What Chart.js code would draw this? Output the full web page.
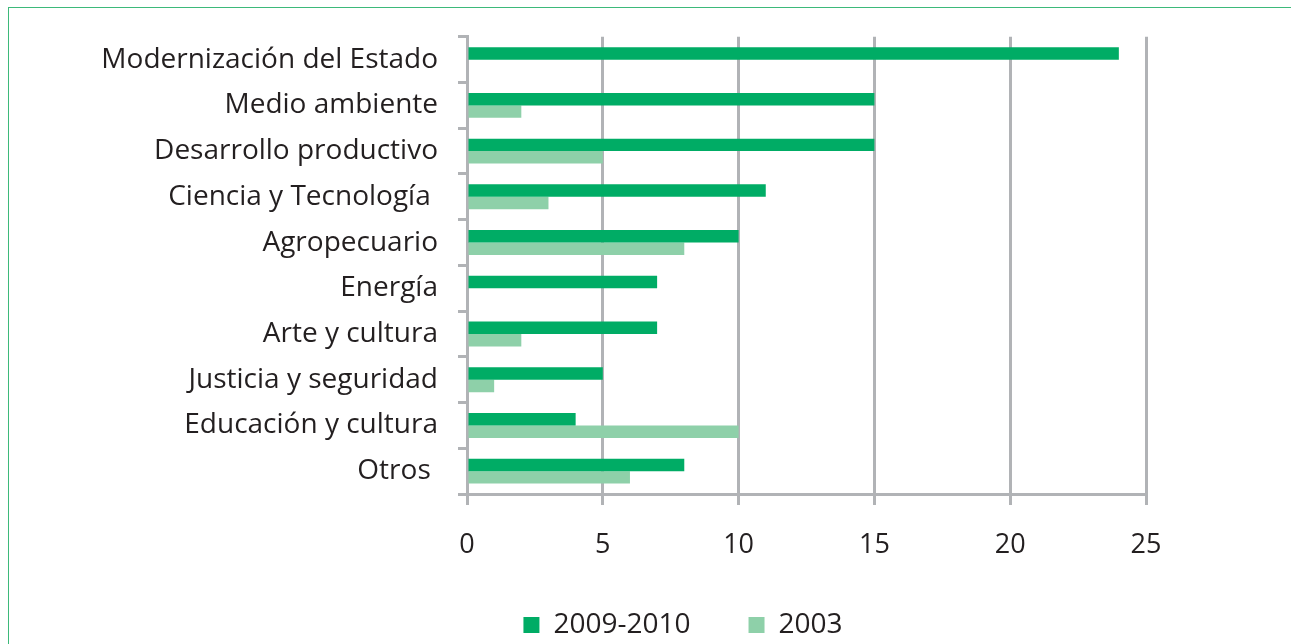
<!DOCTYPE html>
<html>
<head>
<meta charset="utf-8">
<script src="https://cdn.jsdelivr.net/npm/chart.js@4/dist/chart.umd.min.js"></script>
<style>
  html,body{margin:0;padding:0;background:#fff;overflow:hidden;}
  #frame{position:absolute;left:8px;top:7px;width:1300px;height:660px;border:1.5px solid #3DB97A;box-sizing:border-box;}
  #c{position:absolute;left:0;top:0;}
</style>
</head>
<body>
<div id="frame"></div>
<canvas id="c" width="1291" height="644"></canvas>
<script>
const categories = ["Modernización del Estado","Medio ambiente","Desarrollo productivo","Ciencia y Tecnología ","Agropecuario","Energía","Arte y cultura","Justicia y seguridad","Educación y cultura","Otros "];
const series2009 = [24,15,15,11,10,7,7,5,4,8];
const series2003 = [null,2,5,3,8,null,2,1,10,6];
const xTicks = [0,5,10,15,20,25];

const GRID = '#B1B3B6';
const TEXT = '#231F20';
const FONT = "'Open Sans', sans-serif";

const legendPlace = {
  id: 'legendPlace',
  afterLayout(chart) {
    const lg = chart.legend;
    if (lg) { lg.top = 553; lg.bottom = 644; lg.height = 91; }
  }
};

new Chart(document.getElementById('c'), {
  type: 'bar',
  data: {
    labels: categories,
    datasets: [
      {label: '2009-2010', data: series2009, backgroundColor: '#00AC65', borderWidth: 0, categoryPercentage: 0.545, barPercentage: 1},
      {label: '2003', data: series2003, backgroundColor: '#8ED0A9', borderWidth: 0, categoryPercentage: 0.545, barPercentage: 1}
    ]
  },
  plugins: [legendPlace],
  options: {
    indexAxis: 'y',
    responsive: false,
    animation: false,
    devicePixelRatio: 1,
    layout: {padding: {left: 220, right: 145, top: 34, bottom: 40}},
    scales: {
      x: {
        min: 0, max: 25,
        afterBuildTicks: (s) => { s.ticks = xTicks.map(v => ({value: v})); },
        afterFit: (s) => { s.height = 60; },
        grid: {color: GRID, lineWidth: 3, tickLength: 11, drawTicks: true},
        border: {color: GRID, width: 3},
        ticks: {color: TEXT, font: {family: FONT, size: 27}, padding: 24}
      },
      y: {
        afterFit: (s) => { s.width = 247; s._computeLabelArea = () => undefined; },
        grid: {offset: true, drawOnChartArea: false, color: GRID, lineWidth: 3, tickLength: 9},
        border: {color: GRID, width: 3},
        ticks: {color: TEXT, font: {family: FONT, size: 28}, padding: 20, autoSkip: false}
      }
    },
    plugins: {
      legend: {
        position: 'bottom',
        maxHeight: 50,
        labels: {boxWidth: 16, boxHeight: 16, padding: 58, color: TEXT, font: {family: FONT, size: 28}}
      },
      tooltip: {enabled: false}
    }
  }
});
</script>
</body>
</html>
